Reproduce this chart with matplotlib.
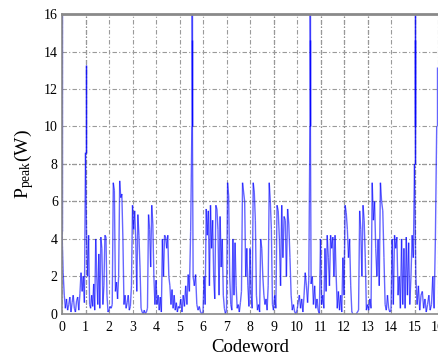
import numpy as np
import matplotlib
matplotlib.use('Agg')
import matplotlib.pyplot as plt
from matplotlib.collections import LineCollection

plt.rcParams['font.family'] = ['Liberation Serif', 'DejaVu Serif']
plt.rcParams['mathtext.fontset'] = 'custom'
plt.rcParams['mathtext.rm'] = 'Liberation Serif'

# peak power samples, one list per codeword unit.
# an inner list holds samples stacked at the same position (the tall spikes)
cw00 = [[16.0, 10.0, 6.2, 4.4], 2.2, 1.0, 0.3, 0.8, 0.2, 0.5, 0.9, 0.1, 0.6, 1.0, 0.3, 0.1, 0.7, 0.9, 0.2, 1.1, 2.2, 1.2, 2.0, 0.6]
cw01 = [[8.6, 13.3, 8.6], 4.2, 2.0, 4.2, 0.5, 0.3, 1.0, 0.4, 1.6, 0.2, 4.0, 2.0, 0.5, 3.2, 0.3, 4.1, 3.5, 0.5, 1.5, 4.2, 4.1, 1.0, 0.1]
cw02 = [0.2, 0.4, 0.3, 0.5, 7.0, 6.6, 1.2, 1.7, 0.8, 2.0, 7.1, 6.2, 6.4, 4.0, 0.5, 1.0, 0.3, 0.6, 1.0, 0.2, 0.4, 1.5]
cw03 = [5.8, 4.5, 5.5, 4.0, 1.2, 5.3, 4.2, 2.5, 0.3, 0.1, 0.0, 0.2, 0.0, 0.1, 0.3, 5.3, 4.5, 2.5, 5.8, 4.8, 2.0, 0.5]
cw04 = [1.8, 0.5, 1.0, 0.2, 0.9, 0.1, 4.0, 2.0, 4.2, 4.1, 3.5, 4.2, 2.0, 1.5, 0.5, 1.3, 0.3, 1.0, 0.2, 0.6, 0.1, 0.4]
cw05 = [0.3, 0.8, 0.1, 1.0, 0.4, 1.5, 0.5, 2.1, 1.2, 4.4, [10.0, 14.6, 10.0, 14.6, 16.0], 2.0, 1.5, 2.1, 0.5, 0.2, 0.4, 0.1, 0.0]
cw06 = [0.1, 2.0, 0.5, 5.6, 4.2, 5.5, 1.5, 5.8, 3.5, 5.0, 2.0, 0.8, 5.8, 5.6, 4.5, 1.0, 5.2, 2.5, 4.0, 1.0, 0.3, 0.0]
cw07 = [0.2, 7.0, 6.3, 2.0, 0.5, 0.2, 4.0, 1.0, 3.8, 1.5, 0.3, 0.5, 0.1, 0.6, 1.2, 7.0, 6.5, 6.0, 2.0, 3.5, 1.5, 0.4]
cw08 = [3.5, 1.0, 0.3, 7.0, 6.5, 5.0, 1.0, 0.2, 0.5, 0.1, 4.0, 3.5, 2.0, 1.0, 0.5, 0.8, 0.2, 1.5, 7.0, 6.0, 4.5, 0.5]
cw09 = [0.2, 1.0, 0.3, 5.8, 5.5, 4.0, 1.5, 5.8, 3.0, 5.2, 5.0, 2.0, 5.6, 4.8, 3.0, 1.0, 0.2, 0.5, 0.1, 0.0]
cw10 = [0.2, 0.6, 1.0, 0.3, 0.8, 0.1, 1.0, 2.2, 1.5, 0.6, 1.8, [10.0, 14.6, 10.0, 16.0], 1.6, 2.0, 0.5, 1.5, 0.3, 0.8, 0.2, 0.0]
cw11 = [4.0, 0.5, 1.0, 0.3, 3.5, 1.2, 4.2, 3.0, 1.5, 4.2, 3.5, 4.1, 2.0, 4.2, 2.0, 0.3, 1.2, 0.2, 1.0, 0.1, 3.0]
cw12 = [1.0, 5.8, 5.4, 4.5, 3.0, 4.0, 1.5, 0.1, 0.0, 0.0, 0.0, 0.0, 0.1, 0.2, 5.5, 4.5, 2.0, 5.8, 5.0, 3.0, 0.2]
cw13 = [0.5, 0.2, 0.8, 0.3, 7.0, 5.0, 6.0, 3.5, 2.0, 4.0, 1.5, 7.0, 6.0, 5.5, 3.0, 0.5, 0.2, 1.0, 0.3, 0.1]
cw14 = [0.2, 4.0, 0.5, 4.2, 3.5, 4.1, 1.0, 2.0, 0.3, 4.0, 0.5, 3.5, 0.3, 4.1, 1.0, 3.8, 0.5, 2.0, 4.2, 3.0]
cw15 = [[8.0, 14.6, 10.0, 16.0, 8.0], 2.0, 0.5, 1.5, 0.2, 1.0, 1.2, 0.3, 0.8, 0.1, 0.5, 1.0, 0.2, 0.5, 2.0, 0.3, 4.0, [10.0, 13.2]]

x_ticks = list(range(17))
y_ticks = [0, 2, 4, 6, 8, 10, 12, 14, 16]

segments = [cw00, cw01, cw02, cw03, cw04, cw05, cw06, cw07,
            cw08, cw09, cw10, cw11, cw12, cw13, cw14, cw15]
xs = []
ys = []
for k, seg in enumerate(segments):
    n = len(seg)
    for i, v in enumerate(seg):
        stack = v if isinstance(v, list) else [v]
        xs.extend([k + i / n] * len(stack))
        ys.extend(stack)
pts = np.column_stack([xs, ys])

fig = plt.figure(figsize=(4.38, 3.6), dpi=100)
ax = fig.add_axes([0.1416, 0.128, 0.8584, 0.833])

grid_style = (0, (4, 2, 1, 2))
ax.grid(True, color='#9a9a9a', linestyle=grid_style, linewidth=0.8)
for yv in [6, 8]:
    ax.axhline(yv, color='#202020', linestyle=grid_style, linewidth=0.8, zorder=0.5)
for xv in [1, 9, 11, 12, 13, 15]:
    ax.axvline(xv, color='#303030', linestyle=grid_style, linewidth=0.8, zorder=0.5)

lc = LineCollection(np.stack([pts[:-1], pts[1:]], axis=1),
                    colors='#0000ff', linewidths=1.0, alpha=0.6, capstyle='butt')
ax.add_collection(lc)

ax.set_xlim(0, 16)
ax.set_ylim(0, 16)
ax.set_xticks(x_ticks)
ax.set_yticks(y_ticks)
ax.tick_params(length=0, labelsize=10, pad=3)
ax.tick_params(axis='x', pad=5)

for side in ['left', 'bottom']:
    ax.spines[side].set_color('#8a8a8a')
    ax.spines[side].set_linewidth(1.2)
ax.spines['top'].set_color('#8a8a8a')
ax.spines['top'].set_linewidth(2)
ax.spines['right'].set_visible(False)

ax.set_xlabel('Codeword', fontsize=13.5, labelpad=4)
ax.set_ylabel(r'$\mathrm{P_{peak}(W)}$', fontsize=14, labelpad=6)

fig.savefig('out.png', dpi=100)
